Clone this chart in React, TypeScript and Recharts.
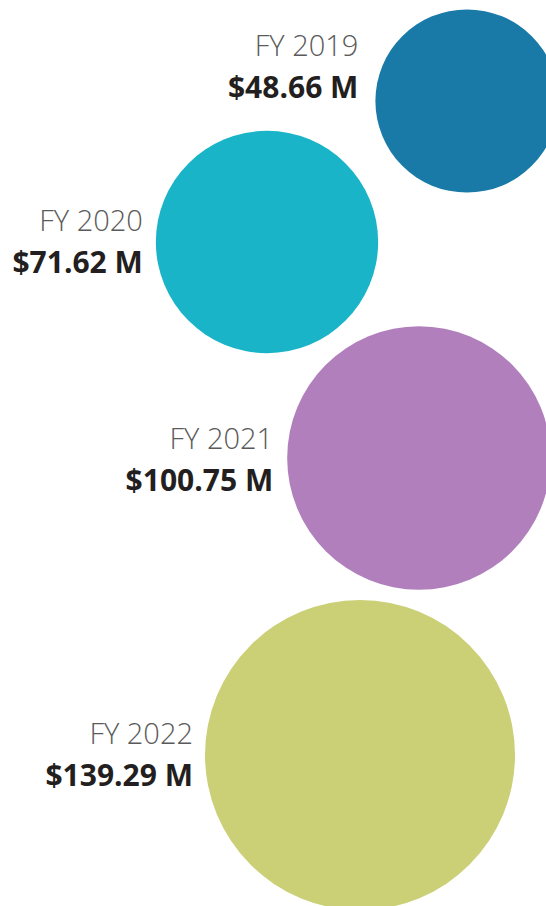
import { ScatterChart, Scatter, XAxis, YAxis, ZAxis, Cell } from "recharts";

// values
const years = ["FY 2019", "FY 2020", "FY 2021", "FY 2022"];
const funding = [48.66, 71.62, 100.75, 139.29];
const colors = ["#1a7aa7", "#19b4c7", "#b07fbc", "#cbd077"];

// bubble layout (centre of each bubble on the page grid)
const layoutX = [467, 267, 419, 360];
const layoutY = [101, 242, 458, 755];
const labelShift = [-34, 0, 2, 0];
const labelGap = [17, 13, 14, 12];

const data = years.map((year, i) => ({
  year,
  value: funding[i],
  x: layoutX[i],
  y: layoutY[i],
  shift: labelShift[i],
  gap: labelGap[i],
}));

const MAX_R = 155;

const Bubble = (props: any) => {
  const { cx, cy, fill, payload } = props;
  const r =
    props.size != null
      ? Math.sqrt(props.size / Math.PI)
      : Math.sqrt(payload.value / funding[funding.length - 1]) * MAX_R;
  const tx = cx - r - payload.gap;
  const base = cy + payload.shift;
  return (
    <g>
      <circle cx={cx} cy={cy} r={r} fill={fill} />
      <text
        x={tx}
        y={base - 11}
        textAnchor="end"
        fontFamily="Open Sans"
        fontWeight={300}
        fontSize={29}
        fill="#5a5a5a"
      >
        {payload.year}
      </text>
      <text
        x={tx}
        y={base + 31}
        textAnchor="end"
        fontFamily="Open Sans"
        fontWeight={700}
        fontSize={30}
        fill="#231f20"
      >
        {`$${payload.value.toFixed(2)} M`}
      </text>
    </g>
  );
};

export default function App() {
  return (
    <div style={{ position: "absolute", left: 0, top: 0, background: "#fff" }}>
      <ScatterChart
        width={546}
        height={906}
        margin={{ top: 0, right: 0, bottom: 0, left: 0 }}
      >
        <XAxis type="number" dataKey="x" domain={[0, 546]} hide />
        <YAxis type="number" dataKey="y" domain={[0, 906]} reversed hide />
        <ZAxis
          type="number"
          dataKey="value"
          domain={[0, funding[funding.length - 1]]}
          range={[0, Math.PI * MAX_R * MAX_R]}
        />
        <Scatter data={data} shape={Bubble} isAnimationActive={false}>
          {data.map((d, i) => (
            <Cell key={d.year} fill={colors[i]} />
          ))}
        </Scatter>
      </ScatterChart>
    </div>
  );
}
